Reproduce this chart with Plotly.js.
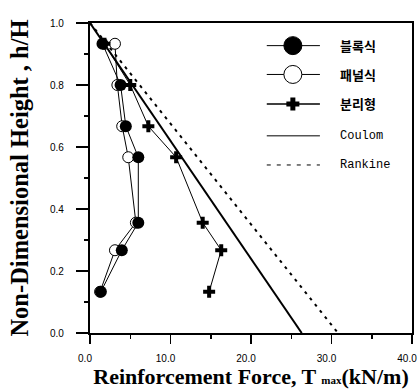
<!DOCTYPE html>
<html>
<head>
<meta charset="utf-8">
<script src="https://cdn.plot.ly/plotly-3.0.1.min.js"></script>
<style>
  html, body { margin: 0; padding: 0; background: #fff; }
  #chart { width: 420px; height: 389px; }
</style>
</head>
<body>
<div id="chart"></div>
<script>
// Non-dimensional height levels h/H of the measured reinforcement layers
const hLevels = [0.933, 0.8, 0.667, 0.567, 0.356, 0.267, 0.133];

// Maximum reinforcement force T_max (kN/m) per wall type
const tBlock = [1.55, 3.8, 4.45, 6.0, 6.0, 3.95, 1.35];   // 블록식
const tPanel = [3.1, 3.4, 4.0, 4.75, 5.7, 3.1, 1.25];     // 패널식
const tSplit = [1.8, 5.0, 7.25, 10.7, 14.0, 16.3, 14.8];  // 분리형

// Theoretical distributions (linear with depth)
const hTheory = [1.0, 0.0];
const tCoulomb = [0.0, 26.3];
const tRankine = [0.0, 30.8];

// Height axis labels
const hTicks = [0.0, 0.2, 0.4, 0.6, 0.8, 1.0];
const hTickText = ['0.0', '0.2', '0.4', '0.6', '0.8', '1.0'];

// Legend entries
const legendNames = ['블록식', '패널식', '분리형', 'Coulom', 'Rankine'];

const black = '#000';

const traces = [
  {
    x: tCoulomb, y: hTheory, mode: 'lines', name: legendNames[3],
    line: { color: black, width: 2 }, showlegend: false, hoverinfo: 'skip'
  },
  {
    x: tRankine, y: hTheory, mode: 'lines', name: legendNames[4],
    line: { color: black, width: 2, dash: '3px,5px' }, showlegend: false, hoverinfo: 'skip'
  },
  {
    x: tPanel, y: hLevels, mode: 'lines+markers', name: legendNames[1],
    line: { color: black, width: 1 },
    marker: { symbol: 'circle', size: 11, color: '#fff', line: { color: black, width: 1 } },
    showlegend: false
  },
  {
    x: tBlock, y: hLevels, mode: 'lines+markers', name: legendNames[0],
    line: { color: black, width: 1 },
    marker: { symbol: 'circle', size: 12, color: black, line: { color: black, width: 0 } },
    showlegend: false
  },
  {
    x: tSplit, y: hLevels, mode: 'lines+markers', name: legendNames[2],
    line: { color: black, width: 1 },
    marker: { symbol: 'cross', size: 10, color: black, line: { width: 0 } },
    showlegend: false
  }
];

const tickFont = { family: 'Liberation Sans Narrow, Liberation Sans, Arial, sans-serif', size: 10, color: black };
const titleFont = { family: 'Liberation Serif, Times New Roman, serif', size: 22, color: black, weight: 700 };

// Hand-built key in the upper right of the plot area
const keyRows = [0.927, 0.834, 0.739, 0.636, 0.542];
const keyX0 = 0.549, keyX1 = 0.714, keyMid = 0.63, keyText = 0.77;
const shapes = [];
const annotations = [];
keyRows.forEach((ry, i) => {
  shapes.push({
    type: 'line', xref: 'paper', yref: 'paper',
    x0: keyX0, x1: keyX1, y0: ry, y1: ry,
    line: { color: black, width: i === 2 ? 1.5 : 1, dash: i === 4 ? '4px,6px' : 'solid' }
  });
  annotations.push({
    xref: 'paper', yref: 'paper', x: keyText, y: ry,
    xanchor: 'left', yanchor: 'middle', showarrow: false,
    text: legendNames[i],
    font: i < 3
      ? { family: 'Noto Sans CJK KR', size: 13, color: black, weight: 700 }
      : { family: 'Liberation Mono, DejaVu Sans Mono, monospace', size: 12, color: black }
  });
});
// filled circle
shapes.push({
  type: 'circle', xref: 'paper', yref: 'paper', xsizemode: 'pixel', ysizemode: 'pixel',
  xanchor: keyMid, yanchor: keyRows[0], x0: -9, x1: 9, y0: -9, y1: 9,
  fillcolor: black, line: { color: black, width: 1 }
});
// open circle
shapes.push({
  type: 'circle', xref: 'paper', yref: 'paper', xsizemode: 'pixel', ysizemode: 'pixel',
  xanchor: keyMid, yanchor: keyRows[1], x0: -9, x1: 9, y0: -9, y1: 9,
  fillcolor: '#fff', line: { color: black, width: 1 }
});
// cross
shapes.push({
  type: 'path', xref: 'paper', yref: 'paper', xsizemode: 'pixel', ysizemode: 'pixel',
  xanchor: keyMid, yanchor: keyRows[2],
  path: 'M-2.5,-6.5 L2.5,-6.5 L2.5,-2.5 L6.5,-2.5 L6.5,2.5 L2.5,2.5 L2.5,6.5 L-2.5,6.5 L-2.5,2.5 L-6.5,2.5 L-6.5,-2.5 L-2.5,-2.5 Z',
  fillcolor: black, line: { color: black, width: 0 }
});

// Height labels set a little away from the tick marks
hTicks.forEach((v, i) => {
  annotations.push({
    xref: 'paper', yref: 'y', x: 0, y: v, xshift: -24,
    xanchor: 'right', yanchor: 'middle', showarrow: false,
    text: hTickText[i], font: tickFont
  });
});

const layout = {
  width: 420, height: 389,
  margin: { l: 90, r: 8, t: 23, b: 56 },
  paper_bgcolor: '#fff', plot_bgcolor: '#fff',
  showlegend: false,
  xaxis: {
    range: [0, 40], dtick: 10, tick0: 0, tickformat: '.1f',
    showgrid: false, zeroline: false,
    showline: true, linecolor: black, linewidth: 2, mirror: true,
    ticks: 'outside', ticklen: 9, tickwidth: 1.5, tickcolor: black,
    minor: { dtick: 5, ticks: 'outside', ticklen: 4, tickwidth: 1.5, tickcolor: black, showgrid: false },
    tickfont: tickFont, ticklabelstandoff: 6, ticklabelshift: -5, ticklabeloverflow: 'allow',
    title: { text: 'Reinforcement Force, T <span style="font-size:11px">max</span>(kN/m)', font: titleFont, standoff: 6 }
  },
  yaxis: {
    range: [0, 1], dtick: 0.2, tick0: 0, showticklabels: false,
    showgrid: false, zeroline: false,
    showline: true, linecolor: black, linewidth: 2, mirror: true,
    ticks: 'outside', ticklen: 12, tickwidth: 1.5, tickcolor: black,
    minor: { dtick: 0.1, ticks: 'outside', ticklen: 4, tickwidth: 1.5, tickcolor: black, showgrid: false },
    title: { text: 'Non-Dimensional Height , h/H', font: Object.assign({}, titleFont, { size: 24.5 }), standoff: 40 }
  },
  shapes: shapes,
  annotations: annotations
};

Plotly.newPlot('chart', traces, layout, { staticPlot: true, displayModeBar: false });
</script>
</body>
</html>
